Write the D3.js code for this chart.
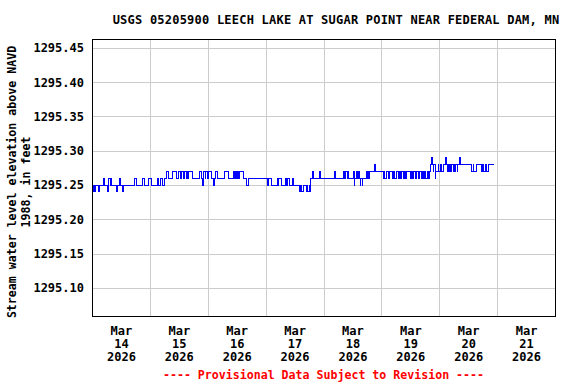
<!DOCTYPE html>
<html>
<head>
<meta charset="utf-8">
<script src="https://cdn.jsdelivr.net/npm/d3@7"></script>
<style>
  body { margin: 0; background: #fff; }
  svg text { font-family: "DejaVu Sans Mono", monospace; font-weight: bold; font-size: 12px; fill: #000; }
</style>
</head>
<body>
<div id="graphic"></div>
<script>
var title = "USGS 05205900 LEECH LAKE AT SUGAR POINT NEAR FEDERAL DAM, MN";
var yLabel = ["Stream water level elevation above NAVD", "1988, in feet"];
var footer = "---- Provisional Data Subject to Revision ----";
var days = ["14", "15", "16", "17", "18", "19", "20", "21"];
var yTicks = [1295.10, 1295.15, 1295.20, 1295.25, 1295.30, 1295.35, 1295.40, 1295.45];
var yMin = 1295.059, yMax = 1295.463;

// readings: hours after Mar 14 00:00 where the gage value changes, and the value
var hours = [0, 0.25, 0.5, 0.75, 1, 1.25, 2.75, 3.25, 4.75, 5.25, 6.25, 7, 7.5, 7.75, 8.25,
  10, 10.5, 11.5, 12, 12.75, 13.25, 17.75, 18.5, 20.75, 21.75, 23.5, 24.5,
  27, 27.75, 28.5, 29.25, 30, 31, 31.75, 33.5, 35, 36, 36.5, 37, 38, 38.25, 39, 39.25, 39.75, 40, 41.5,
  44.75, 45.5, 46, 46.25, 47, 47.25, 48, 48.25, 49.5, 50.25, 50.75, 51.25, 52.25,
  55, 56.5, 58.5, 59.25, 59.5, 60, 60.25, 60.75, 61.25, 63, 64, 65,
  72.75, 73.25, 74.25, 76.75, 77.25, 77.5, 78.75, 80.25, 80.75, 81.25, 82, 83, 83.75,
  86.25, 86.5, 86.75, 87.5, 89, 89.25, 89.5, 90.25, 90.5, 90.75, 91.25, 91.75,
  94.25, 94.75, 100.5, 101, 104.25, 104.75, 105, 105.75, 106, 106.25,
  108.25, 108.75, 109, 109.5, 110, 110.5, 110.75, 111.25, 111.5, 112, 112.25,
  113.75, 114.25, 114.5, 115, 115.25, 117.25, 117.5,
  120.75, 121, 121.5, 122.25, 122.75, 123.25, 124.75, 125, 125.5, 126.25, 127.25, 127.5, 128, 128.5,
  129.25, 129.5, 130, 130.25, 132, 132.5, 133, 133.5, 134, 134.75, 135.25, 135.75, 136.5, 137, 137.5,
  138, 138.5, 139, 139.5, 140, 140.5, 140.75, 141, 141.5, 141.75, 142.25, 142.5, 143.5, 143.75,
  144.5, 144.75, 145.75, 146.75, 147, 147.5, 147.75, 148.25, 148.5, 149, 149.25, 149.75, 150, 150.5,
  150.75, 151.5, 151.75, 152.5, 152.75, 157.5, 158, 158.25, 159.25, 161.5, 162, 162.5, 163, 163.5,
  164.25, 166.5];
var levels = [1295.24, 1295.25, 1295.24, 1295.25, 1295.24, 1295.25, 1295.24, 1295.25, 1295.26, 1295.25, 1295.24, 1295.26, 1295.25, 1295.26, 1295.25,
  1295.24, 1295.25, 1295.26, 1295.25, 1295.24, 1295.25, 1295.26, 1295.25, 1295.26, 1295.25, 1295.26, 1295.25,
  1295.26, 1295.25, 1295.26, 1295.25, 1295.26, 1295.27, 1295.26, 1295.27, 1295.26, 1295.27, 1295.26, 1295.27, 1295.26, 1295.27, 1295.26, 1295.27, 1295.26, 1295.27, 1295.26,
  1295.27, 1295.26, 1295.25, 1295.27, 1295.26, 1295.27, 1295.26, 1295.27, 1295.26, 1295.25, 1295.26, 1295.27, 1295.26,
  1295.27, 1295.26, 1295.27, 1295.26, 1295.27, 1295.26, 1295.27, 1295.26, 1295.27, 1295.26, 1295.25, 1295.26,
  1295.25, 1295.26, 1295.25, 1295.26, 1295.25, 1295.26, 1295.25, 1295.26, 1295.25, 1295.26, 1295.25, 1295.26, 1295.25,
  1295.24, 1295.25, 1295.24, 1295.25, 1295.24, 1295.25, 1295.24, 1295.25, 1295.24, 1295.26, 1295.27, 1295.26,
  1295.27, 1295.26, 1295.27, 1295.26, 1295.27, 1295.26, 1295.27, 1295.26, 1295.27, 1295.26,
  1295.27, 1295.25, 1295.26, 1295.27, 1295.26, 1295.27, 1295.26, 1295.25, 1295.26, 1295.25, 1295.26,
  1295.27, 1295.26, 1295.27, 1295.26, 1295.27, 1295.28, 1295.27,
  1295.26, 1295.27, 1295.26, 1295.27, 1295.26, 1295.27, 1295.26, 1295.27, 1295.26, 1295.27, 1295.26, 1295.27, 1295.26, 1295.27,
  1295.26, 1295.27, 1295.26, 1295.27, 1295.26, 1295.27, 1295.26, 1295.27, 1295.26, 1295.27, 1295.26, 1295.27, 1295.26, 1295.27, 1295.26,
  1295.27, 1295.26, 1295.27, 1295.26, 1295.27, 1295.28, 1295.29, 1295.28, 1295.27, 1295.28, 1295.26, 1295.27, 1295.28, 1295.27,
  1295.28, 1295.27, 1295.28, 1295.29, 1295.28, 1295.27, 1295.28, 1295.27, 1295.28, 1295.27, 1295.28, 1295.27, 1295.28, 1295.27,
  1295.28, 1295.27, 1295.28, 1295.29, 1295.28, 1295.27, 1295.28, 1295.27, 1295.28, 1295.27, 1295.28, 1295.27, 1295.28, 1295.27,
  1295.28, 1295.28];

var graphic = d3.select('#graphic');

function drawGraphic() {

  var width = 576, height = 384;
  var margin = {top: 39, right: 21, bottom: 68, left: 92};
  var chart_width = width - margin.left - margin.right;
  var chart_height = height - margin.top - margin.bottom;

  var start = new Date(2026, 2, 14);

  var readings = hours.map(function(h, i) {
    return {date: d3.timeMinute.offset(start, h * 60), value: levels[i]};
  });

  //set up scales
  var x = d3.scaleTime()
    .domain([start, d3.timeDay.offset(start, 8)])
    .range([0, chart_width]);

  var y = d3.scaleLinear()
    .domain([yMin, yMax])
    .range([chart_height, 0]);

  var svg = graphic.append('svg')
    .attr('width', width)
    .attr('height', height);

  svg.append('text')
    .attr('x', 336)
    .attr('y', 24)
    .attr('text-anchor', 'middle')
    .style('letter-spacing', '0.22px')
    .text(title);

  var chart = svg.append('g')
    .attr('transform', 'translate(' + margin.left + ',' + margin.top + ')');

  // grid lines
  var midnights = d3.range(1, 8).map(function(d) { return d3.timeDay.offset(start, d); });

  chart.append('g')
    .attr('class', 'grid')
    .attr('transform', 'translate(0,' + chart_height + ')')
    .call(d3.axisBottom(x).tickValues(midnights).tickSize(-chart_height).tickFormat(''))
    .call(function(g) { g.select('.domain').remove(); });

  chart.append('g')
    .attr('class', 'grid')
    .call(d3.axisLeft(y).tickValues(yTicks).tickSize(-chart_width).tickFormat(''))
    .call(function(g) { g.select('.domain').remove(); });

  chart.selectAll('.grid line')
    .attr('stroke', '#cccccc')
    .attr('shape-rendering', 'crispEdges');

  // data line
  var line = d3.line()
    .x(function(d) { return x(d.date); })
    .y(function(d) { return y(d.value); })
    .curve(d3.curveStepAfter);

  chart.append('path')
    .datum(readings)
    .attr('d', line)
    .attr('fill', 'none')
    .attr('stroke', '#0000ff')
    .attr('stroke-width', 1)
    .attr('shape-rendering', 'crispEdges');

  // frame
  chart.append('rect')
    .attr('x', 0)
    .attr('y', 0)
    .attr('width', chart_width)
    .attr('height', chart_height)
    .attr('fill', 'none')
    .attr('stroke', '#000')
    .attr('shape-rendering', 'crispEdges');

  // y axis labels
  var yAxis = chart.append('g')
    .call(d3.axisLeft(y).tickValues(yTicks).tickSize(0).tickPadding(8).tickFormat(d3.format('.2f')));
  yAxis.select('.domain').remove();
  yAxis.selectAll('text')
    .attr('font-family', null)
    .attr('font-size', null);

  // x axis labels, three lines at noon of each day
  var noons = days.map(function(d, i) { return d3.timeHour.offset(start, i * 24 + 12); });

  var xAxis = chart.append('g')
    .attr('transform', 'translate(0,' + chart_height + ')')
    .call(d3.axisBottom(x).tickValues(noons).tickSize(0).tickFormat(''));
  xAxis.select('.domain').remove();
  xAxis.selectAll('.tick text').remove();
  xAxis.selectAll('.tick').each(function(d, i) {
    var t = d3.select(this).append('text')
      .attr('text-anchor', 'middle')
      .attr('y', 19);
    ['Mar', days[i], '2026'].forEach(function(s, j) {
      t.append('tspan').attr('x', 0).attr('dy', j == 0 ? 0 : 13).text(s);
    });
  });

  // y axis title
  var yt = svg.append('text')
    .attr('transform', 'translate(0,182) rotate(-90)')
    .attr('text-anchor', 'middle')
    .style('font-size', '11.6px');
  yLabel.forEach(function(s, j) {
    yt.append('tspan').attr('x', 0).attr('y', j == 0 ? 16 : 30).text(s);
  });

  svg.append('text')
    .attr('x', margin.left + chart_width / 2)
    .attr('y', 379)
    .attr('text-anchor', 'middle')
    .style('fill', '#ff0000')
    .style('font-size', '11.6px')
    .text(footer);
}

drawGraphic();
</script>
</body>
</html>
